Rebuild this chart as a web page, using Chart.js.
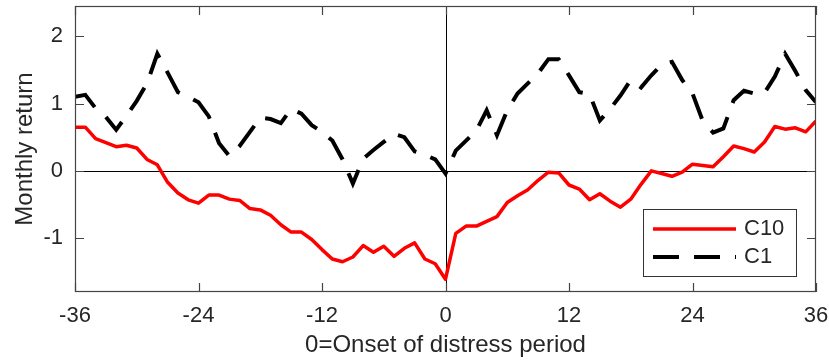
<!DOCTYPE html>
<html>
<head>
<meta charset="utf-8">
<script src="https://cdn.jsdelivr.net/npm/chart.js@4"></script>
<style>
  html, body { margin: 0; padding: 0; background: #fff; }
  #wrap { width: 829px; height: 363px; }
</style>
</head>
<body>
<div id="wrap"><canvas id="chart" width="829" height="363"></canvas></div>
<script>
// months relative to the onset of distress (0)
const months = [
  -36, -35, -34, -33, -32, -31, -30, -29, -28, -27,
  -26, -25, -24, -23, -22, -21, -20, -19, -18, -17,
  -16, -15, -14, -13, -12, -11, -10, -9, -8, -7,
  -6, -5, -4, -3, -2, -1, 0,
  1, 2, 3, 4, 5, 6, 7, 8, 9, 10,
  11, 12, 13, 14, 15, 16, 17, 18, 19, 20,
  21, 22, 23, 24, 25, 26, 27, 28, 29, 30,
  31, 32, 33, 34, 35, 36
];

const c10 = [
  0.65, 0.65, 0.48, 0.42, 0.36, 0.38, 0.34, 0.17, 0.09, -0.17,
  -0.33, -0.43, -0.48, -0.36, -0.36, -0.42, -0.44, -0.56, -0.58, -0.66,
  -0.80, -0.91, -0.91, -1.02, -1.17, -1.31, -1.35, -1.28, -1.11, -1.21,
  -1.12, -1.27, -1.15, -1.07, -1.31, -1.38, -1.61,
  -0.93, -0.82, -0.82, -0.75, -0.68, -0.47, -0.37, -0.28, -0.14, -0.02,
  -0.03, -0.21, -0.27, -0.43, -0.34, -0.45, -0.54, -0.42, -0.20, 0.00,
  -0.04, -0.08, -0.02, 0.10, 0.08, 0.06, 0.21, 0.37, 0.33, 0.28,
  0.43, 0.66, 0.62, 0.64, 0.58, 0.74
];

const c1 = [
  1.10, 1.13, 0.93, 0.80, 0.61, 0.82, 1.04, 1.30, 1.74, 1.46,
  1.17, 1.10, 1.02, 0.81, 0.41, 0.22, 0.37, 0.58, 0.79, 0.77,
  0.71, 0.92, 0.85, 0.68, 0.58, 0.45, 0.17, -0.19, 0.18, 0.31,
  0.43, 0.55, 0.50, 0.29, 0.24, 0.17, -0.04,
  0.30, 0.45, 0.60, 0.90, 0.53, 0.90, 1.15, 1.30, 1.45, 1.66,
  1.66, 1.42, 1.17, 1.14, 0.75, 0.92, 1.12, 1.35, 1.24, 1.42,
  1.58, 1.62, 1.35, 1.15, 0.74, 0.57, 0.63, 1.05, 1.19, 1.15,
  1.16, 1.40, 1.74, 1.48, 1.20, 1.02
];

const xTicks = [-36, -24, -12, 0, 12, 24, 36];
const yTicks = [-1, 0, 1, 2];

const FONT = '"Liberation Sans", Arial, Helvetica, sans-serif';
const INK = '#262626';

const toPoints = vals => vals.map((v, i) => ({ x: months[i], y: v }));

// fixed axis sizes, no extra room for edge labels
const fixSize = (w, h) => s => {
  if (w) s.width = w;
  if (h) s.height = h;
  s.paddingLeft = s.paddingRight = s.paddingTop = s.paddingBottom = 0;
};

// box around the axes, inward tick marks on all four sides, zero lines and legend
const axesBox = {
  id: 'axesBox',
  beforeDatasetsDraw(chart) {
    const { ctx, chartArea: a, scales: { x, y } } = chart;
    ctx.save();
    ctx.strokeStyle = '#000';
    ctx.lineWidth = 1;
    const x0 = Math.round(x.getPixelForValue(0)) + 0.5;
    const y0 = Math.round(y.getPixelForValue(0)) + 0.5;
    ctx.beginPath();
    ctx.moveTo(a.left, y0); ctx.lineTo(a.right, y0);
    ctx.moveTo(x0, a.top); ctx.lineTo(x0, a.bottom);
    ctx.stroke();
    ctx.restore();
  },
  afterDatasetsDraw(chart) {
    const { ctx, chartArea: a, scales: { x, y } } = chart;
    const tl = 9;
    ctx.save();
    ctx.strokeStyle = '#444';
    ctx.lineWidth = 1.2;
    ctx.strokeRect(a.left + 0.5, a.top + 0.5, a.right - a.left - 1, a.bottom - a.top - 1);
    ctx.beginPath();
    x.ticks.forEach(t => {
      const px = Math.round(x.getPixelForValue(t.value)) + 0.5;
      ctx.moveTo(px, a.bottom); ctx.lineTo(px, a.bottom - tl);
      ctx.moveTo(px, a.top); ctx.lineTo(px, a.top + tl);
    });
    y.ticks.forEach(t => {
      const py = Math.round(y.getPixelForValue(t.value)) + 0.5;
      ctx.moveTo(a.left, py); ctx.lineTo(a.left + tl, py);
      ctx.moveTo(a.right, py); ctx.lineTo(a.right - tl, py);
    });
    ctx.stroke();

    // legend box in the lower right corner
    const w = 153, h = 67;
    const lx = a.right - 20 - w, ly = a.bottom - 16 - h;
    ctx.fillStyle = '#fff';
    ctx.fillRect(lx, ly, w, h);
    ctx.strokeStyle = '#333';
    ctx.lineWidth = 1;
    ctx.strokeRect(lx + 0.5, ly + 0.5, w, h);
    chart.data.datasets.forEach((ds, i) => {
      const yy = ly + 20 + i * 28;
      ctx.beginPath();
      ctx.strokeStyle = ds.borderColor;
      ctx.lineWidth = ds.borderWidth;
      ctx.setLineDash(ds.borderDash || []);
      ctx.moveTo(lx + 10, yy); ctx.lineTo(lx + 93, yy);
      ctx.stroke();
      ctx.setLineDash([]);
      ctx.fillStyle = INK;
      ctx.font = '22px ' + FONT;
      ctx.textBaseline = 'middle';
      ctx.textAlign = 'left';
      ctx.fillText(ds.label, lx + 101, yy);
    });
    ctx.restore();
  }
};

new Chart(document.getElementById('chart'), {
  type: 'line',
  data: {
    datasets: [
      {
        label: 'C10',
        data: toPoints(c10),
        borderColor: '#ff0000',
        borderWidth: 3.5,
        pointRadius: 0,
        tension: 0,
        borderJoinStyle: 'round'
      },
      {
        label: 'C1',
        data: toPoints(c1),
        borderColor: '#000000',
        borderWidth: 4,
        borderDash: [26, 15],
        borderCapStyle: 'butt',
        pointRadius: 0,
        tension: 0
      }
    ]
  },
  options: {
    responsive: false,
    animation: false,
    devicePixelRatio: 1,
    layout: { autoPadding: false, padding: { top: 6, right: 13, left: 0, bottom: 0 } },
    plugins: {
      legend: { display: false },
      tooltip: { enabled: false }
    },
    scales: {
      x: {
        type: 'linear',
        min: -36,
        max: 36,
        afterBuildTicks: s => { s.ticks = xTicks.map(v => ({ value: v })); },
        afterFit: fixSize(0, 71),
        grid: { display: false, drawTicks: false },
        border: { display: false },
        ticks: { color: INK, padding: 11, font: { family: FONT, size: 22 }, maxRotation: 0 },
        title: {
          display: true,
          text: '0=Onset of distress period',
          color: INK,
          font: { family: FONT, size: 24 },
          padding: { top: 0, bottom: 3 }
        }
      },
      y: {
        min: -1.8,
        max: 2.45,
        afterBuildTicks: s => { s.ticks = yTicks.map(v => ({ value: v })); },
        afterFit: fixSize(75, 0),
        grid: { display: false, drawTicks: false },
        border: { display: false },
        ticks: { color: INK, padding: 12, font: { family: FONT, size: 22 } },
        title: {
          display: true,
          text: 'Monthly return',
          color: INK,
          font: { family: FONT, size: 24 },
          padding: { top: 11, bottom: 0 }
        }
      }
    }
  },
  plugins: [axesBox]
});
</script>
</body>
</html>
